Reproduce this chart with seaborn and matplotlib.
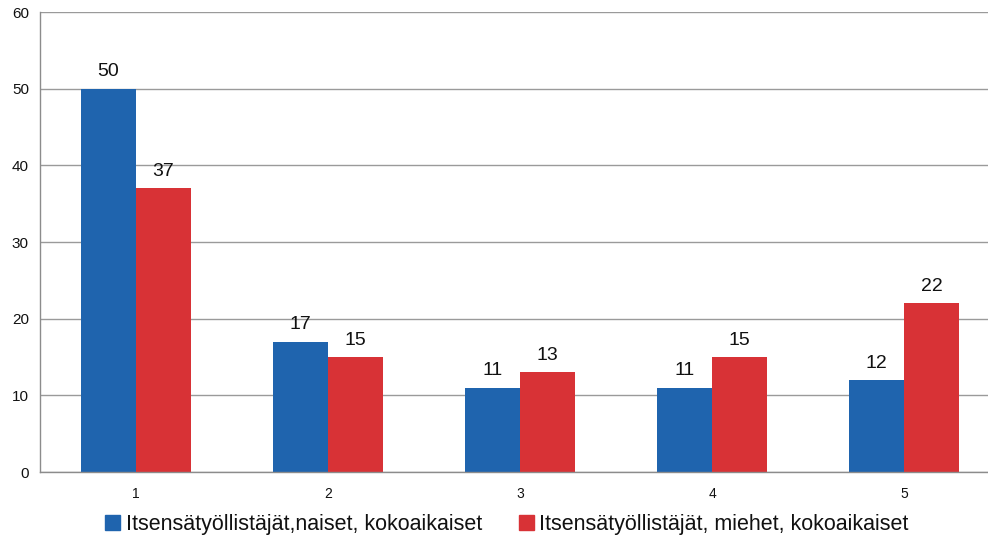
import matplotlib
matplotlib.use("Agg")
import matplotlib.pyplot as plt
import seaborn as sns
import pandas as pd

categories = ["1", "2", "3", "4", "5"]
naiset = [50, 17, 11, 11, 12]
miehet = [37, 15, 13, 15, 22]
series_names = ["Itsensätyöllistäjät,naiset, kokoaikaiset",
                "Itsensätyöllistäjät, miehet, kokoaikaiset"]
colors = ["#1F64AE", "#D83236"]

df = pd.DataFrame({
    "kategoria": categories * 2,
    "arvo": naiset + miehet,
    "sarja": [series_names[0]] * 5 + [series_names[1]] * 5,
})

sns.set_style("white")
plt.rcParams["font.family"] = ["Liberation Sans", "DejaVu Sans"]

fig = plt.figure(figsize=(9.88, 5.37), dpi=100)
ax = fig.add_axes([40 / 988, 65 / 537, 960 / 988, 460 / 537])

sns.barplot(data=df, x="kategoria", y="arvo", hue="sarja", palette=colors,
            width=0.573, saturation=1, linewidth=0, ax=ax, legend=False)

for cont in ax.containers:
    ax.bar_label(cont, padding=6, fontsize=14, color="#111111")

ax.set_ylim(0, 60)
ax.set_yticks(range(0, 61, 10))
ax.set_xlim(-0.5, 4.5)
ax.grid(axis="y", color="#9a9a9a", linewidth=1)
ax.set_axisbelow(True)
ax.set_xlabel("")
ax.set_ylabel("")

for s in ["top", "right"]:
    ax.spines[s].set_visible(False)
for s in ["left", "bottom"]:
    ax.spines[s].set_color("#8c8c8c")
    ax.spines[s].set_linewidth(1)

ax.tick_params(axis="y", length=5, color="#8c8c8c", labelsize=11, pad=3, labelcolor="#111111")
ax.tick_params(axis="x", which="major", length=0, labelsize=10, pad=11, labelcolor="#111111")
ax.set_xticks([0.5, 1.5, 2.5, 3.5], minor=True)
ax.tick_params(axis="x", which="minor", length=5, color="#8c8c8c")

handles = [plt.Rectangle((0, 0), 1, 1, color=c) for c in colors]
fig.legend(handles, series_names, loc="lower center", bbox_to_anchor=(0.513, -0.032),
           ncol=2, frameon=False, fontsize=15.5, handlelength=0.7, handleheight=0.7,
           handletextpad=0.25, columnspacing=1.7, labelcolor="#111111")

fig.savefig("out.png", dpi=100)
